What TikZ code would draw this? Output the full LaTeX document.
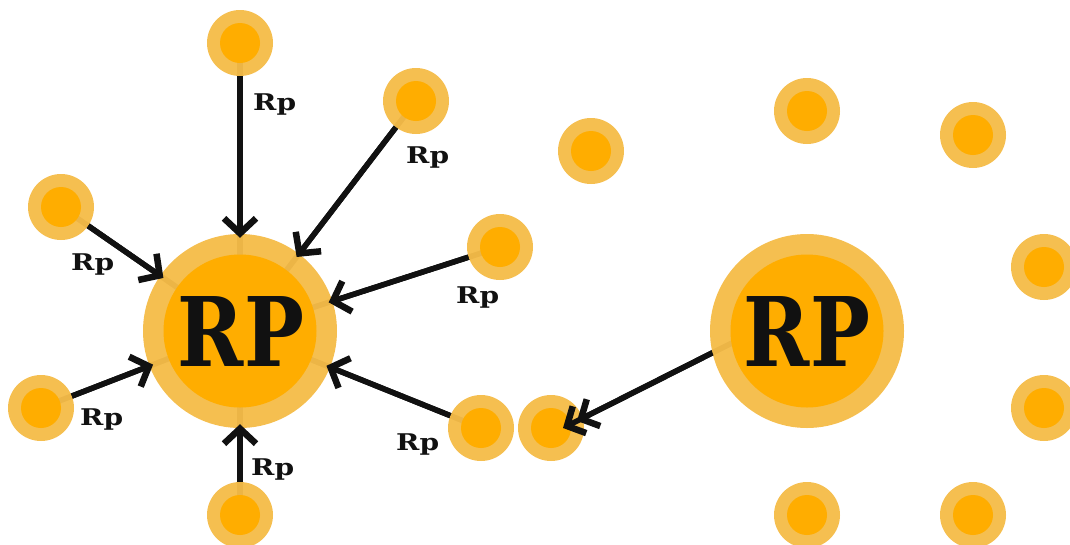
\documentclass[tikz,border=0pt]{standalone}
\usepackage{fontspec}
\usepackage{graphicx}
\setmainfont{DejaVu Serif}
\usetikzlibrary{arrows.meta}
\definecolor{ringc}{HTML}{F5BC49}
\definecolor{corec}{HTML}{FFAD00}
\definecolor{ink}{HTML}{111111}
\pgfdeclarelayer{shafts}
\pgfdeclarelayer{tips}
\pgfsetlayers{shafts,main,tips}
\tikzset{
  smallring/.style={circle, fill=ringc, fill opacity=0.96, inner sep=0pt, minimum size=66pt},
  bigring/.style={circle, fill=ringc, fill opacity=0.96, inner sep=0pt, minimum size=194pt},
  core/.style={fill=corec},
  shaft/.style={draw=ink, line width=5.5pt},
  barb/.tip={Straight Barb[length=15pt,width=32pt,line width=6.5pt]},
  feed/.style={draw=ink, line width=5.5pt, -{barb}, shorten >=-4pt},
  dfeed/.style={draw=ink, line width=5.5pt, -{Straight Barb[length=14pt,width=30pt,line width=6.5pt,sep=-6pt] Straight Barb[length=14pt,width=30pt,line width=6.5pt]}},
  lbl/.style={anchor=base west, inner sep=0pt, font=\bfseries\fontsize{23}{23}\selectfont, text=ink},
  big/.style={font=\bfseries\fontsize{96}{96}\selectfont, text=ink, inner sep=0pt}
}
\newcommand{\widelbl}[1]{\scalebox{1.22}[1]{#1}}
\newcommand{\narrowtitle}[1]{\scalebox{0.83}[1]{#1}}
\begin{document}
\begin{tikzpicture}[x=1pt,y=-1pt]
\useasboundingbox (0,0) rectangle (1070,544);

% the two reward pools
\node[bigring] (P1) at (240,331) {};
\node[bigring] (P2) at (807,331) {};

% small holders
\node[smallring] (a1) at (240,43) {};
\node[smallring] (a2) at (416,101) {};
\node[smallring] (a3) at (61,207) {};
\node[smallring] (a4) at (500,247) {};
\node[smallring] (a5) at (41,408) {};
\node[smallring] (a6) at (481,428) {};
\node[smallring] (a7) at (240,515) {};
\node[smallring] (t)  at (551,428) {};
\node[smallring] (b1) at (591,151) {};
\node[smallring] (b2) at (807,111) {};
\node[smallring] (b3) at (973,135) {};
\node[smallring] (b4) at (1044,267) {};
\node[smallring] (b5) at (1044,408) {};
\node[smallring] (b6) at (807,515) {};
\node[smallring] (b7) at (973,515) {};
\coordinate (tp) at (563,428);

% opaque cores
\foreach \n in {a1,a2,a3,a4,a5,a6,a7,t,b1,b2,b3,b4,b5,b6,b7}
  \fill[core] (\n.center) circle (20);
\fill[core] (P1.center) circle (76.5);
\fill[core] (P2.center) circle (76.5);

\node[big] (r1) at (241,332) {\narrowtitle{RP}};
\node[big] (r2) at (807,332) {\narrowtitle{RP}};

% shafts running under the translucent rings
\begin{pgfonlayer}{shafts}
\foreach \n in {a1,a2,a3,a4,a5,a6,a7}
  \draw[shaft] (\n.center) -- (P1.center);
\draw[shaft, shorten <=-22pt] (P2.193) -- (tp);
\end{pgfonlayer}

% arrows on top
\begin{pgfonlayer}{tips}
\foreach \n in {a1,a2,a3,a4,a5,a6,a7}
  \draw[feed] (\n) -- (P1);
\draw[dfeed] (P2.193) -- (tp);
\end{pgfonlayer}

% labels
\node[lbl] (l1) at (253,110) {\widelbl{Rp}};
\node[lbl] (l2) at (406,163) {\widelbl{Rp}};
\node[lbl] (l3) at (71,270) {\widelbl{Rp}};
\node[lbl] (l4) at (456,303) {\widelbl{Rp}};
\node[lbl] (l5) at (80,425) {\widelbl{Rp}};
\node[lbl] (l6) at (396,450) {\widelbl{Rp}};
\node[lbl] (l7) at (251,475) {\widelbl{Rp}};
\end{tikzpicture}
\end{document}
